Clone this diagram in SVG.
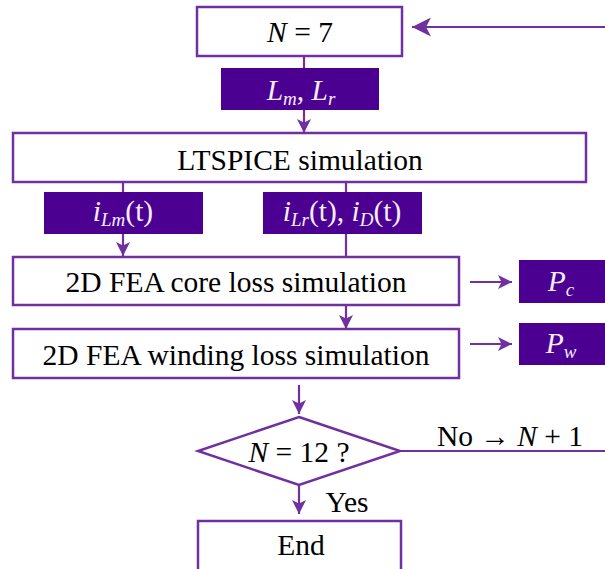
<svg xmlns="http://www.w3.org/2000/svg" width="605" height="569" viewBox="0 0 605 569">
<defs>
<style>
.box{fill:#ffffff;stroke:#7030a0;stroke-width:2.5}
.dark{fill:#4c0091;stroke:none}
.con{stroke:#7030a0;stroke-width:2.2;fill:none}
.t{font-family:"Liberation Serif","Times New Roman",serif;font-size:29.5px;fill:#000;text-anchor:middle}
.w{font-family:"Liberation Serif","Times New Roman",serif;font-size:29.5px;fill:#f4eefc;text-anchor:middle}
.i{font-style:italic}
.s{font-size:19px}
</style>
<marker id="ah" markerUnits="userSpaceOnUse" viewBox="0 0 14 14" refX="14" refY="7" markerWidth="14" markerHeight="14" orient="auto">
<path d="M0,0 L14,7 L0,14 L3.5,7 z" fill="#7030a0"/>
</marker>
<marker id="ahL" markerUnits="userSpaceOnUse" viewBox="0 0 19 19" refX="19" refY="9.5" markerWidth="19" markerHeight="19" orient="auto">
<path d="M0,0 L19,9.5 L0,19 L5,9.5 z" fill="#7030a0"/>
</marker>
</defs>

<g id="connectors">
<line class="con" x1="605" y1="27" x2="412" y2="27" marker-end="url(#ahL)"/>
<line class="con" x1="304" y1="56" x2="304" y2="68"/>
<line class="con" x1="304" y1="110" x2="304" y2="133" marker-end="url(#ah)"/>
<line class="con" x1="123" y1="182" x2="123" y2="192"/>
<line class="con" x1="123" y1="234" x2="123" y2="256" marker-end="url(#ah)"/>
<line class="con" x1="346" y1="182" x2="346" y2="257"/>
<line class="con" x1="346" y1="305" x2="346" y2="329" marker-end="url(#ah)"/>
<line class="con" x1="470" y1="282" x2="512" y2="282" marker-end="url(#ah)"/>
<line class="con" x1="470" y1="344" x2="512" y2="344" marker-end="url(#ah)"/>
<line class="con" x1="299" y1="385" x2="299" y2="414" marker-end="url(#ah)"/>
<line class="con" x1="299" y1="485" x2="299" y2="514" marker-end="url(#ah)"/>
<line class="con" x1="400" y1="451" x2="605" y2="451"/>
<text class="t" x="510" y="446">No → <tspan class="i">N</tspan> + 1</text>
<text class="t" x="347" y="512">Yes</text>
</g>

<g id="n7">
<rect class="box" x="197" y="7" width="205" height="49"/>
<text class="t" x="300" y="42"><tspan class="i">N</tspan> = 7</text>
</g>

<g id="lmlr">
<rect class="dark" x="221" y="68" width="158" height="42"/>
<text class="w" x="301" y="100"><tspan class="i">L</tspan><tspan class="i s" dy="5">m</tspan><tspan dy="-5">, </tspan><tspan class="i">L</tspan><tspan class="i s" dy="5">r</tspan></text>
</g>

<g id="ltspice">
<rect class="box" x="13" y="133" width="573" height="49"/>
<text class="t" x="300" y="170">LTSPICE simulation</text>
</g>

<g id="ilm">
<rect class="dark" x="44" y="192" width="159" height="42"/>
<text class="w" x="123" y="221"><tspan class="i">i</tspan><tspan class="i s" dy="5">Lm</tspan><tspan dy="-5">(t)</tspan></text>
</g>

<g id="ilr">
<rect class="dark" x="263" y="192" width="159" height="42"/>
<text class="w" x="342" y="221"><tspan class="i">i</tspan><tspan class="i s" dy="5">Lr</tspan><tspan dy="-5">(t), </tspan><tspan class="i">i</tspan><tspan class="i s" dy="5">D</tspan><tspan dy="-5">(t)</tspan></text>
</g>

<g id="core">
<rect class="box" x="13" y="257" width="446" height="48"/>
<text class="t" x="236" y="292">2D FEA core loss simulation</text>
</g>

<g id="pc">
<rect class="dark" x="519" y="260" width="86" height="43"/>
<text class="w" x="561" y="291"><tspan class="i">P</tspan><tspan class="i s" dy="5">c</tspan></text>
</g>

<g id="winding">
<rect class="box" x="13" y="329" width="446" height="49"/>
<text class="t" x="236" y="365">2D FEA winding loss simulation</text>
</g>

<g id="pw">
<rect class="dark" x="519" y="323" width="86" height="42"/>
<text class="w" x="561" y="353"><tspan class="i">P</tspan><tspan class="i s" dy="5">w</tspan></text>
</g>

<g id="decision">
<polygon class="box" points="299,417 400,451 299,485 198,451"/>
<text class="t" x="299" y="462"><tspan class="i">N</tspan> = 12 ?</text>
</g>

<g id="end">
<rect class="box" x="198" y="521" width="203" height="52"/>
<text class="t" x="301" y="555">End</text>
</g>
</svg>
